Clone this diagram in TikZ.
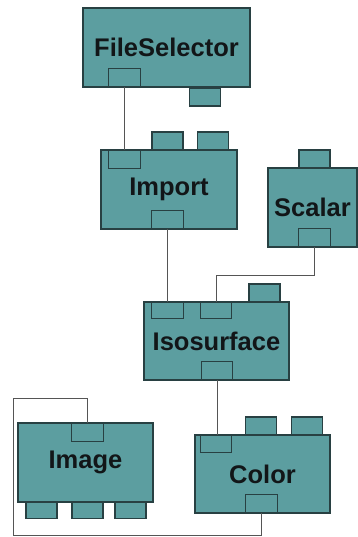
\documentclass[tikz,border=0pt]{standalone}
\usepackage{fontspec}
\setmainfont{Liberation Sans}
\definecolor{modfill}{RGB}{92,158,160}
\definecolor{modedge}{RGB}{40,64,66}
\definecolor{wire}{RGB}{85,85,85}
\definecolor{modtext}{RGB}{18,22,24}
\tikzset{
  module/.style={draw=modedge, fill=modfill, line width=1.2pt, inner sep=0pt,
    font=\fontsize{25.5}{25.5}\selectfont\bfseries, text=modtext},
  tab/.style={draw=modedge, fill=modfill, line width=1.2pt, inner sep=0pt,
    minimum width=31pt, minimum height=18pt},
  port/.style={inner sep=0pt, minimum width=31pt, minimum height=18pt},
  portline/.style={draw=modedge, line width=1.2pt},
  wireline/.style={draw=wire, line width=0.9pt},
}
\begin{document}
\begin{tikzpicture}[x=1pt,y=-1pt]
\useasboundingbox (0,0) rectangle (358,537);

% tabs sticking out of the modules (drawn first, modules overlap their base)
\node[tab] (fstab)  at (205,97) {};
\node[tab] (imtab1) at (167.5,141) {};
\node[tab] (imtab2) at (213,141) {};
\node[tab] (sctab)  at (314.5,159) {};
\node[tab] (isotab) at (264.5,293) {};
\node[tab] (coltab1) at (261,426) {};
\node[tab] (coltab2) at (307,426) {};
\node[tab, minimum height=17pt] (imgtab1) at (41.5,510) {};
\node[tab, minimum height=17pt] (imgtab2) at (87.5,510) {};
\node[tab, minimum height=17pt] (imgtab3) at (130.5,510) {};

% module bodies
\node[module, minimum width=167pt, minimum height=79pt] (fs)    at (166.5,47.5) {FileSelector};
\node[module, minimum width=136pt, minimum height=79pt] (imp)   at (169,189.5) {Import};
\node[module, minimum width=89pt,  minimum height=79pt] (sc)    at (312.5,207.5) {Scalar};
\node[module, minimum width=145pt, minimum height=78pt] (iso)   at (216.5,341) {Isosurface};
\node[module, minimum width=135pt, minimum height=79pt] (img)   at (85.5,462.5) {Image};
\node[module, minimum width=135pt, minimum height=78pt] (col)   at (262.5,474) {Color};

% ports set into the module bodies
\node[port] (fsout)  at (124.5,77.5) {};
\node[port] (imin)   at (124.5,159.5) {};
\node[port] (imout)  at (167.5,219.5) {};
\node[port] (scout)  at (314.5,238) {};
\node[port, minimum height=16pt] (isoin1) at (167.5,310) {};
\node[port, minimum height=16pt] (isoin2) at (216,310) {};
\node[port] (isoout) at (217,371) {};
\node[port, minimum height=17pt] (colin)  at (216,443.5) {};
\node[port] (colout) at (261.5,504) {};
\node[port] (imgin)  at (87.5,432.5) {};

% input ports: open at the top edge
\foreach \p in {imin,isoin1,isoin2,colin,imgin}
  \draw[portline] (\p.north west) -- (\p.south west) -- (\p.south east) -- (\p.north east);
% output ports: open at the bottom edge
\foreach \p in {fsout,imout,scout,isoout,colout}
  \draw[portline] (\p.south west) -- (\p.north west) -- (\p.north east) -- (\p.south east);

% wires
\coordinate (scbend) at (0,275);
\coordinate (loopbl) at (13,535.5);
\coordinate (looptl) at (13,398);
\draw[wireline] (fsout.south) -- (imin.north);
\draw[wireline] (imout.south) -- (imout.south |- isoin1.north);
\draw[wireline] (scout.south) |- (isoin2.north |- scbend) -- (isoin2.north);
\draw[wireline] (isoout.south) -- (isoout.south |- colin.north);
\draw[wireline] (colout.south) |- (loopbl) -- (looptl) -| (imgin.north);
\end{tikzpicture}
\end{document}
